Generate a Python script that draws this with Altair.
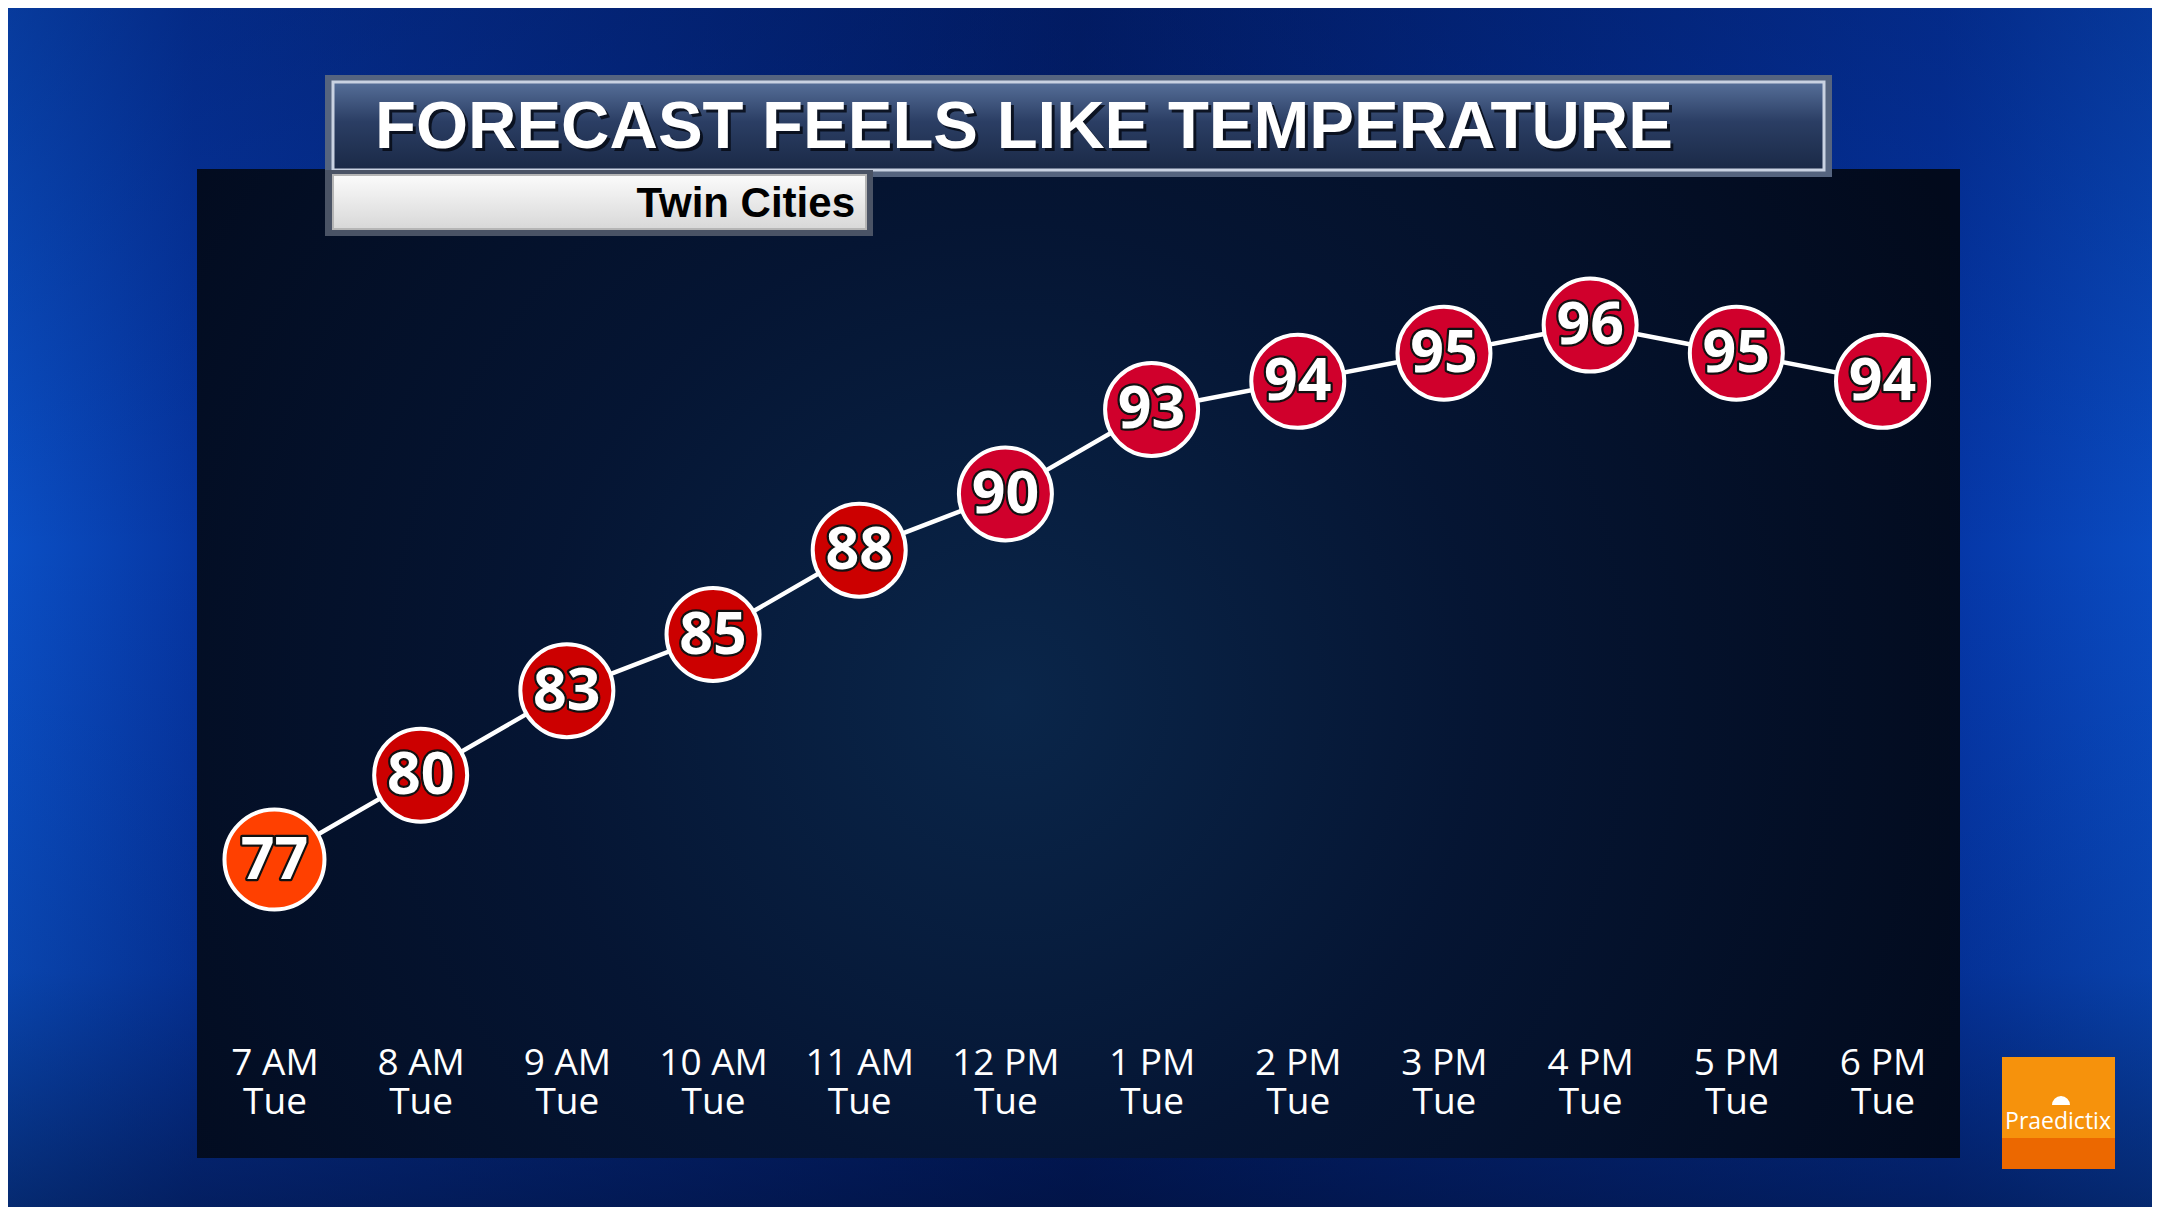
import altair as alt
import pandas as pd

# ---- data ----
hours = ["7 AM", "8 AM", "9 AM", "10 AM", "11 AM", "12 PM",
         "1 PM", "2 PM", "3 PM", "4 PM", "5 PM", "6 PM"]
days = ["Tue"] * 12
feels_like = [77, 80, 83, 85, 88, 90, 93, 94, 95, 96, 95, 94]

TITLE = "FORECAST FEELS LIKE TEMPERATURE"
SUBTITLE = "Twin Cities"
LOGO = "Praedictix"

band_breaks = [80, 90]
band_colors = ["#ff4000", "#cc0000", "#d0002c"]

labels = [f"{h}|{d}" for h, d in zip(hours, days)]
df = pd.DataFrame({"label": labels, "feels": feels_like})
one = pd.DataFrame({"k": [0]})

W, H = 1763, 989

x_enc = alt.X(
    "label:N",
    sort=labels,
    scale=alt.Scale(type="point", padding=0.53),
    axis=alt.Axis(
        title=None,
        labelExpr="split(datum.label, '|')",
        labelFont="Open Sans",
        labelFontSize=37,
        labelColor="white",
        labelLineHeight=39,
        labelBaseline="alphabetic",
        labelPadding=0,
        labelAngle=0,
        labelOverlap=False,
        labelFlush=False,
        labelBound=False,
        ticks=False,
        tickSize=0,
        domain=False,
        grid=False,
        offset=-84,
        zindex=1,
    ),
)
y_enc = alt.Y("feels:Q", scale=alt.Scale(domain=[66.39, 101.55], nice=False, zero=False), axis=None)

base = alt.Chart(df).encode(x=x_enc, y=y_enc)


def box(x1, y1, x2, y2, fill, **kw):
    return alt.Chart(one).mark_rect(fill=fill, **kw).encode(
        x=alt.value(x1), x2=alt.value(x2), y=alt.value(y1), y2=alt.value(y2)
    )


def lin(stops, x1=0, y1=0, x2=0, y2=1):
    return {"gradient": "linear", "x1": x1, "y1": y1, "x2": x2, "y2": y2,
            "stops": [{"offset": o, "color": c} for o, c in stops]}


def rad(stops, cx, cy, r):
    return {"gradient": "radial", "x1": cx, "y1": cy, "r1": 0, "x2": cx, "y2": cy, "r2": r,
            "stops": [{"offset": o, "color": c} for o, c in stops]}


# background (outer blue)
bg = box(-197, -169, 1963, 1046,
         lin([(0, "#0b50c6"), (0.09, "#0636a2"), (0.5, "#021f6c"), (0.9, "#0536a6"), (1, "#0a4cc2")],
             x1=0, y1=0, x2=1, y2=0))
bg_shade = box(-197, -169, 1963, 1046,
               lin([(0, "rgba(1,20,80,0.35)"), (0.45, "rgba(1,20,80,0)"), (0.8, "rgba(1,12,45,0.15)"),
                    (1, "rgba(1,10,40,0.55)")]))

# dark panel
panel = box(0, 0, W, H,
            rad([(0, "#0a264a"), (0.45, "#051533"), (1, "#020a1c")], 0.46, 0.52, 0.6))

# title boxes
title_outer = box(128, -94, 1635, 8, "#55647f")
title_inner = box(136, -87, 1627, 1,
                  lin([(0, "#566f99"), (0.45, "#2b3e64"), (1, "#1a2946")]),
                  stroke="#c9d2e2", strokeWidth=3)
sub_outer = box(128, 1, 676, 67, "#4a5365")
sub_inner = box(136, 6, 669, 60,
                lin([(0, "#fbfbfb"), (1, "#d8d8d8")]),
                stroke="#b5b5b5", strokeWidth=2)

title_shadow = alt.Chart(one).mark_text(
    align="left", baseline="alphabetic", font="Liberation Sans", fontWeight="bold",
    fontSize=67, color="#060b16", opacity=0.85, dx=3, dy=3
).encode(x=alt.value(178), y=alt.value(-21), text=alt.value(TITLE))
title_text = alt.Chart(one).mark_text(
    align="left", baseline="alphabetic", font="Liberation Sans", fontWeight="bold",
    fontSize=67, color="white"
).encode(x=alt.value(178), y=alt.value(-21), text=alt.value(TITLE))
sub_text = alt.Chart(one).mark_text(
    align="right", baseline="alphabetic", font="Liberation Sans", fontWeight="bold",
    fontSize=42, color="black"
).encode(x=alt.value(658), y=alt.value(48), text=alt.value(SUBTITLE))

# data marks
line = base.mark_line(color="white", strokeWidth=4.5)
circles = base.mark_circle(opacity=1, stroke="white", strokeWidth=4).encode(
    color=alt.Color("feels:Q", scale=alt.Scale(type="threshold", domain=band_breaks, range=band_colors),
                    legend=None),
    size=alt.condition(f"datum.label == '{labels[0]}'", alt.value(10000), alt.value(8650)),
)
num_outline = base.mark_text(
    font="Open Sans", fontWeight="bold", fontSize=59, color="white",
    stroke="#111111", strokeWidth=4.5, strokeJoin="round", baseline="middle", dy=1
).encode(text="feels:Q")
num_text = base.mark_text(
    font="Open Sans", fontWeight="bold", fontSize=59, color="white", baseline="middle", dy=1
).encode(text="feels:Q")

# logo
logo_top = box(1805, 888, 1918, 969, "#f6920c")
logo_bot = box(1805, 969, 1918, 1000, "#ec6800")
logo_text = alt.Chart(one).mark_text(
    align="center", baseline="alphabetic", font="Open Sans", fontSize=23, color="white"
).encode(x=alt.value(1861), y=alt.value(960), text=alt.value(LOGO))
logo_icon = alt.Chart(one).mark_arc(radius=9, color="white").encode(
    x=alt.value(1864), y=alt.value(936), theta=alt.value(4.712), theta2=alt.value(7.854)
)

chart = alt.layer(
    bg, bg_shade, panel,
    title_outer, title_inner, sub_outer, sub_inner,
    title_shadow, title_text, sub_text,
    line, circles, num_outline, num_text,
    logo_top, logo_bot, logo_text, logo_icon,
).properties(
    width=W, height=H,
    autosize=alt.AutoSizeParams(type="none"),
    padding={"left": 189, "top": 161, "right": 192, "bottom": 49},
    background="#021e66",
).configure_view(stroke=None)

chart.save("out.html", embed_options={"renderer": "svg", "actions": False})
